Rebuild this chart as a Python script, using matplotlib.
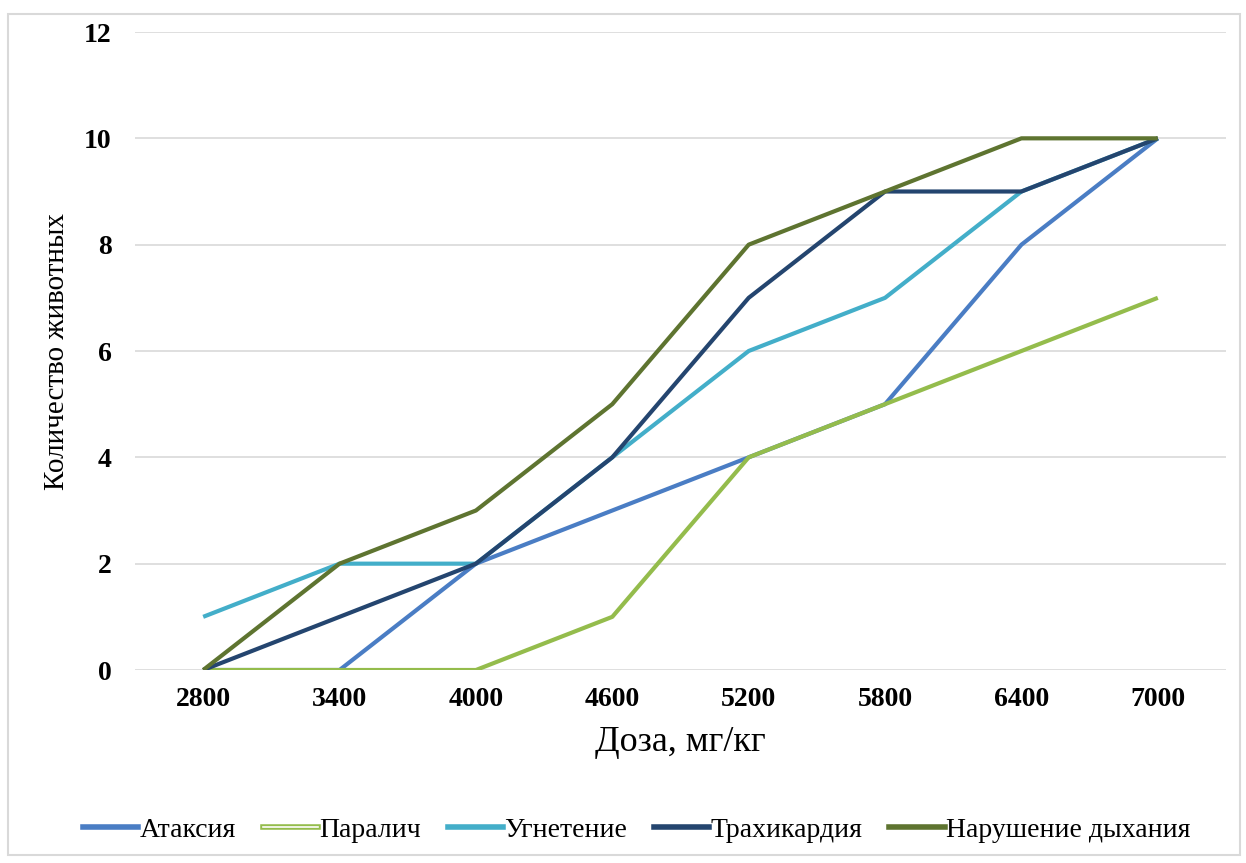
import matplotlib
matplotlib.use('Agg')
from matplotlib import pyplot as plt
from matplotlib.lines import Line2D
from matplotlib.patches import Rectangle
import matplotlib.patheffects as pe

# Chart data
doses = ['2800', '3400', '4000', '4600', '5200', '5800', '6400', '7000']
ataxia = [0, 0, 2, 3, 4, 5, 8, 10]
paralysis = [0, 0, 0, 1, 4, 5, 6, 7]
depression = [1, 2, 2, 4, 6, 7, 9, 10]
tachycardia = [0, 1, 2, 4, 7, 9, 9, 10]
breathing = [0, 2, 3, 5, 8, 9, 10, 10]

series_names = ['Атаксия', 'Паралич', 'Угнетение', 'Трахикардия', 'Нарушение дыхания']
series_values = [ataxia, paralysis, depression, tachycardia, breathing]
colors = ['#4a7dc4', '#94bc4c', '#43aec9', '#24456f', '#5e7430']
y_ticks = [0, 2, 4, 6, 8, 10, 12]


def main():
    plt.rcParams['font.family'] = ['Liberation Serif', 'DejaVu Serif']

    fig = plt.figure(figsize=(12.46, 8.63), dpi=100)
    ax = fig.add_axes([135 / 1246, 1 - 670 / 863, 1091 / 1246, 638 / 863])

    # Outer chart border
    fig.patches.append(Rectangle((8 / 1246, 8 / 863), 1232 / 1246, 841 / 863,
                                 transform=fig.transFigure, fill=False,
                                 edgecolor='#d9d9d9', linewidth=1.5))

    x = [i + 0.5 for i in range(len(doses))]
    for name, vals, col in zip(series_names, series_values, colors):
        ax.plot(x, vals, color=col, linewidth=3.0, solid_capstyle='butt', zorder=3)

    ax.set_xlim(0, len(doses))
    ax.set_ylim(0, 12)
    ax.set_xticks(x)
    ax.set_xticklabels(doses, fontsize=20, fontweight='bold')
    ax.set_yticks(y_ticks)
    ax.set_yticklabels([str(t) for t in y_ticks], fontsize=20, fontweight='bold')
    ax.tick_params(axis='x', length=0, pad=12)
    ax.tick_params(axis='y', length=0, pad=17)
    ax.grid(axis='y', color='#d9d9d9', linewidth=1.2)
    ax.set_axisbelow(True)
    for s in ax.spines.values():
        s.set_visible(False)

    ax.set_xlabel('Доза, мг/кг', fontsize=26, labelpad=10)
    ax.set_ylabel('Количество животных', fontsize=21, labelpad=10)

    # Legend with double line for Паралич
    handles = []
    for name, col in zip(series_names, colors):
        if name == 'Паралич':
            h = Line2D([], [], color=col, linewidth=4,
                       path_effects=[pe.Normal(), pe.Stroke(linewidth=1.2, foreground='white')])
        else:
            h = Line2D([], [], color=col, linewidth=4)
        handles.append(h)
    fig.legend(handles, series_names, loc='center', bbox_to_anchor=(0.511, 1 - 830 / 863),
               ncol=5, frameon=False, fontsize=20, handlelength=2.0,
               handletextpad=0.05, columnspacing=0.95)

    plt.savefig('out.png', dpi=100)


if __name__ == "__main__":
    main()
